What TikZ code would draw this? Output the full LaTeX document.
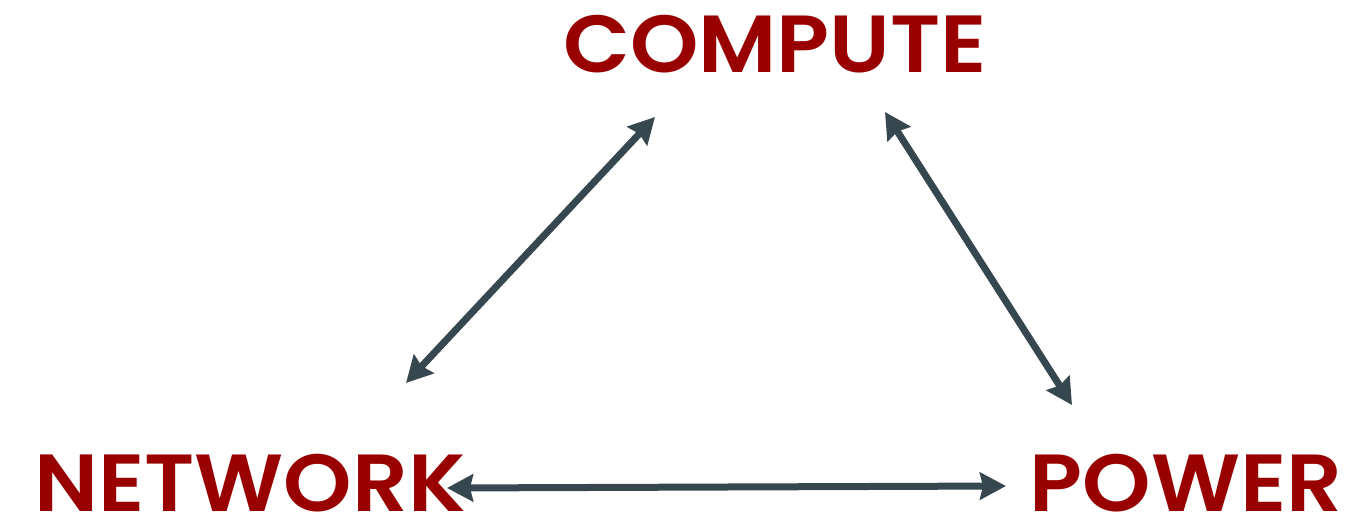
\documentclass[tikz,border=0pt]{standalone}
\usepackage{fontspec}
\setmainfont{Poppins}[BoldFont={Poppins SemiBold}, BoldFeatures={FakeStretch=1.075}]
\usetikzlibrary{arrows.meta}
\definecolor{labelred}{HTML}{990000}
\definecolor{linkslate}{HTML}{37474F}
\tikzset{
  term/.style={inner sep=0pt, anchor=base, text depth=0pt, text=labelred,
    font=\fontsize{81}{81}\selectfont\bfseries},
  link/.style={draw=linkslate, line width=7pt,
    {Stealth[length=26pt,width=27pt,inset=3pt]}-{Stealth[length=26pt,width=27pt,inset=3pt]}}
}
\begin{document}
\begin{tikzpicture}[x=1pt,y=-1pt]
\useasboundingbox (0,0) rectangle (1353,517);
\node[term] (compute) at (775,72) {COMPUTE};
\node[term] (network) at (250,511) {NETWORK};
\node[term] (power) at (1186,511) {POWER};
% connector end points around the three terms
\coordinate (cl) at (655,117);
\coordinate (nt) at (406,383);
\coordinate (cr) at (885,112);
\coordinate (pt) at (1072,405);
\coordinate (nr) at (447,488);
\coordinate (pl) at (1006,486);
\draw[link] (cl) -- (nt);
\draw[link] (cr) -- (pt);
\draw[link] (nr) -- (pl);
\end{tikzpicture}
\end{document}
